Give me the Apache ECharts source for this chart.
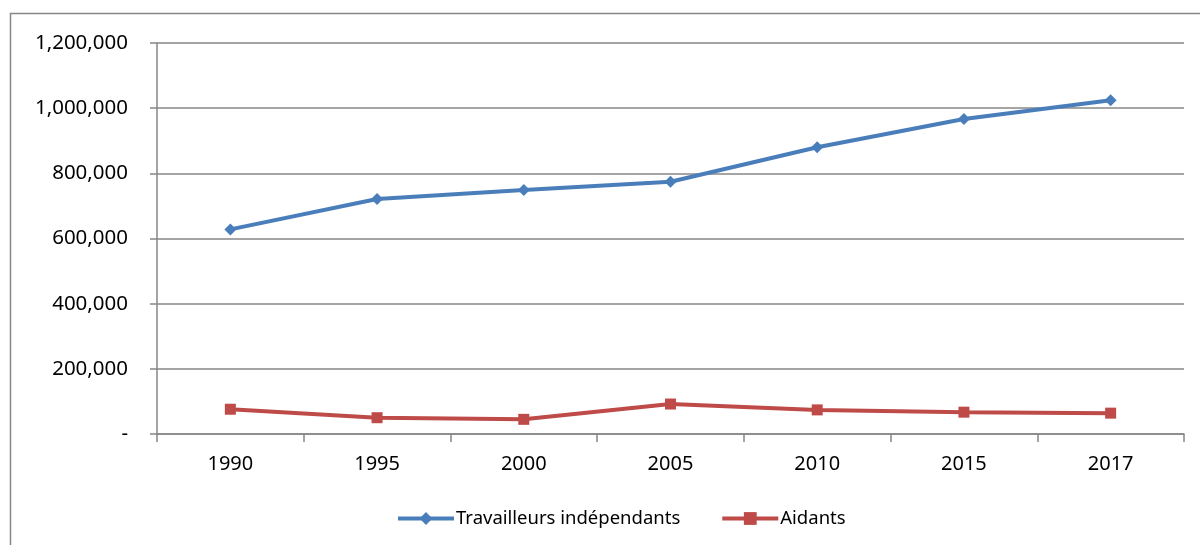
<!DOCTYPE html>
<html>
<head>
<meta charset="utf-8">
<script src="https://cdn.jsdelivr.net/npm/echarts@6/dist/echarts.min.js"></script>
<style>
	html, body { margin: 0; padding: 0; background: #fff; }
	#main { width: 1200px; height: 545px; }
</style>
</head>
<body>
<div id="main"></div>
<script>
// annees et valeurs
var years = [ '1990', '1995', '2000', '2005', '2010', '2015', '2017' ];
var independants = [ 628000, 721000, 749000, 774000, 880000, 967000, 1024000 ];
var aidants = [ 76000, 50000, 45000, 92000, 74000, 67000, 64000 ];
var seriesNames = [ 'Travailleurs indépendants', 'Aidants' ];

var myChart = echarts.init(document.getElementById('main'));

var gray = '#878787';
var font = 'Noto Sans';

var option = {
	animation : false,
	backgroundColor : '#fff',
	graphic : [ {
		type : 'rect',
		shape : { x : 10.5, y : 13.5, width : 1300, height : 700 },
		style : { fill : 'none', stroke : gray, lineWidth : 1.5 },
		silent : true
	} ],
	grid : {
		left : 157,
		top : 43,
		right : 16,
		bottom : 111
	},
	legend : {
		left : 391,
		top : 504,
		itemWidth : 56,
		itemHeight : 16,
		itemGap : 40,
		lineStyle : { width : 4 },
		textStyle : { fontFamily : font, fontSize : 18.5, color : '#000', padding : [ 0, 0, 0, -3 ] },
		data : seriesNames
	},
	xAxis : {
		type : 'category',
		boundaryGap : true,
		data : years,
		axisLine : { lineStyle : { color : gray, width : 1.5 } },
		axisTick : { show : true, length : 8, lineStyle : { color : gray, width : 1.5 } },
		axisLabel : { margin : 20, fontFamily : font, fontSize : 20, color : '#000' }
	},
	yAxis : {
		type : 'value',
		min : 0,
		max : 1200000,
		interval : 200000,
		axisLine : { show : true, lineStyle : { color : gray, width : 1.5 } },
		axisTick : { show : true, length : 7, lineStyle : { color : gray, width : 1.5 } },
		splitLine : { lineStyle : { color : gray, width : 1.5 } },
		axisLabel : {
			margin : 29,
			fontFamily : font,
			fontSize : 20.5,
			color : '#000',
			formatter : function(v) {
				return v === 0 ? '-' : v.toLocaleString('en-US');
			}
		}
	},
	series : [ {
		name : seriesNames[0],
		type : 'line',
		data : independants,
		symbol : 'diamond',
		symbolSize : 12,
		itemStyle : { color : '#4A7EBB' },
		lineStyle : { color : '#4A7EBB', width : 4 }
	}, {
		name : seriesNames[1],
		type : 'line',
		data : aidants,
		symbol : 'rect',
		symbolSize : 11,
		itemStyle : { color : '#BE4B48' },
		lineStyle : { color : '#BE4B48', width : 4 }
	} ]
};

myChart.setOption(option);
</script>
</body>
</html>
